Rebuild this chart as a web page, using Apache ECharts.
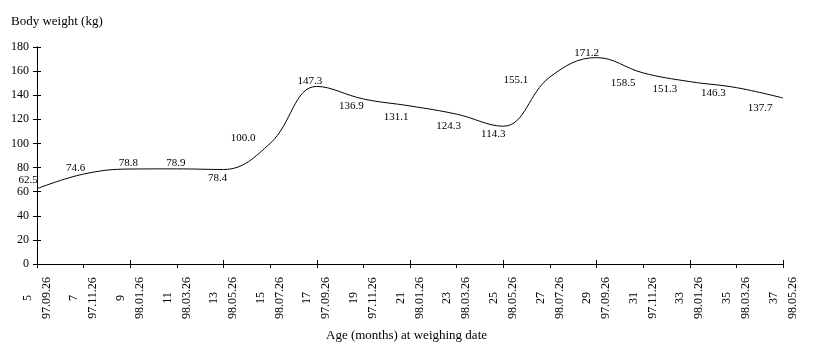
<!DOCTYPE html>
<html><head><meta charset="utf-8">
<script src="https://cdn.jsdelivr.net/npm/echarts@6/dist/echarts.min.js"></script>
<style>html,body{margin:0;padding:0;background:#fff}#c{width:813px;height:358px}</style>
</head><body><div id="c"></div>
<script>
const ages = ['5','7','9','11','13','15','17','19','21','23','25','27','29','31','33','35','37'];
const dates = ['97.09.26','97.11.26','98.01.26','98.03.26','98.05.26','98.07.26','97.09.26','97.11.26','98.01.26','98.03.26','98.05.26','98.07.26','97.09.26','97.11.26','98.01.26','98.03.26','98.05.26'];
const weights = [62.5,74.6,78.8,78.9,78.4,100.0,147.3,136.9,131.1,124.3,114.3,155.1,171.2,158.5,151.3,146.3,137.7];
const yTicks = [0,20,40,60,80,100,120,140,160,180];

// label placement (style, not data)
const labelOffsets = [[-9,-9],[-8,-6],[-2,-6],[-1,-6],[-6,9],[-27,-5],[-7,-5],[-12,7],[-14,11],[-8,12],[-10,8],[-34,3],[-10,-4],[-20,10],[-25,8],[-23,5],[-23,10]];

const categories = ages.map((a,i)=>a+'\n'+dates[i]);
const font = '"Liberation Serif", "DejaVu Serif", serif';

const chart = echarts.init(document.getElementById('c'), null, {renderer:'canvas'});
const baseX = {
  type:'category', data:categories, boundaryGap:false,
  axisLine:{lineStyle:{color:'#000',width:1}},
  splitLine:{show:false}
};
const baseY = {
  type:'value', min:yTicks[0], max:yTicks[yTicks.length-1], interval:20,
  axisLine:{show:true,lineStyle:{color:'#000',width:1}},
  splitLine:{show:false}
};
chart.setOption({
  animation:false,
  backgroundColor:'#fff',
  grid:{left:37,right:30,top:47,bottom:94,containLabel:false},
  title:{text:'Body weight (kg)',left:6,top:10,textStyle:{fontFamily:font,fontSize:13,fontWeight:'normal',color:'#000'}},
  graphic:[{type:'text',left:'center',top:329,style:{text:'Age (months) at weighing date',font:'13px '+font,fill:'#000'}}],
  xAxis:[
    Object.assign({},baseX,{
      axisTick:{show:true,inside:false,length:4,lineStyle:{color:'#000'}},
      axisLabel:{interval:0,rotate:90,align:'center',verticalAlign:'middle',margin:34,fontFamily:font,fontSize:12,color:'#000',lineHeight:19}
    }),
    Object.assign({},baseX,{position:'bottom',
      axisTick:{show:true,inside:true,length:4,lineStyle:{color:'#000'}},
      axisLabel:{show:false}
    })
  ],
  yAxis:[
    Object.assign({},baseY,{
      axisTick:{show:true,inside:false,length:4,lineStyle:{color:'#000'}},
      axisLabel:{margin:8,fontFamily:font,fontSize:12,color:'#000'}
    }),
    Object.assign({},baseY,{position:'left',
      axisTick:{show:true,inside:true,length:4,lineStyle:{color:'#000'}},
      axisLabel:{show:false}
    })
  ],
  series:[{
    type:'line', smooth:0.4, xAxisIndex:0, yAxisIndex:0,
    symbol:'circle', symbolSize:1, showSymbol:true,
    itemStyle:{color:'rgba(0,0,0,0)'},
    lineStyle:{color:'#000',width:1},
    data:weights.map((v,i)=>({value:v,label:{offset:labelOffsets[i]}})),
    label:{show:true,position:'inside',fontFamily:font,fontSize:11,color:'#000',
      formatter:p=>p.value.toFixed(1)}
  }]
});
</script></body></html>
